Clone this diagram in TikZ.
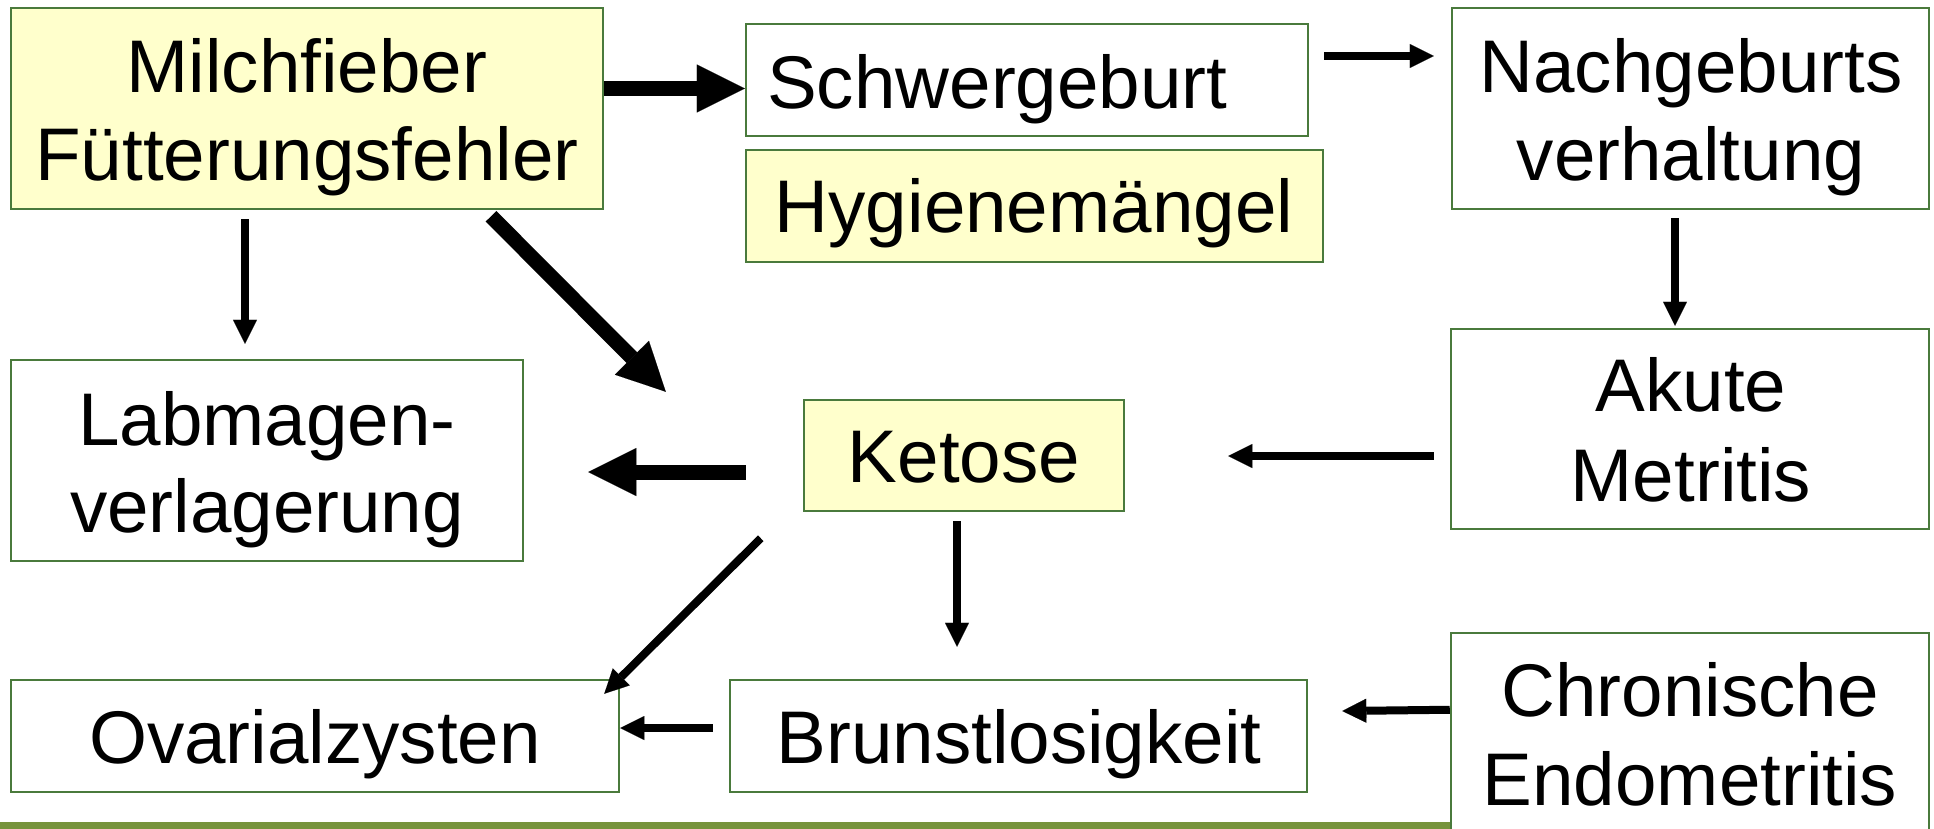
\documentclass[tikz,border=0pt]{standalone}
\usepackage{fontspec}
\setmainfont{Liberation Sans}
\usetikzlibrary{arrows.meta,calc}
\definecolor{bordergreen}{RGB}{74,122,60}
\definecolor{boxyellow}{RGB}{255,255,204}
\definecolor{olivegreen}{RGB}{119,147,60}
\begin{document}
\begin{tikzpicture}[x=1pt,y=-1pt,
  box/.style={draw=bordergreen,line width=2.5pt,fill=white,inner sep=0pt,rectangle},
  ybox/.style={box,fill=boxyellow},
  txt/.style={font=\fontsize{74.6pt}{88pt}\selectfont,inner sep=0pt,anchor=base},
  thinarrow/.style={line width=8pt,-{Triangle[length=24pt,width=24pt,line width=0.1pt]}},
  thickarrow/.style={line width=15pt,-{Triangle[length=48pt,width=48pt,line width=0.1pt]}}]
\useasboundingbox (0,0) rectangle (1934,828);
\clip (0,0) rectangle (1934,828);
\fill[white] (0,0) rectangle (1934,828);
\fill[olivegreen] (0,822) rectangle (1451,832);

% boxes
\node[ybox,minimum width=592pt,minimum height=201pt] (mf) at (307,108.5) {};
\node[box,minimum width=562pt,minimum height=112pt] (sg) at (1027,80) {};
\node[ybox,minimum width=577pt,minimum height=112pt] (hy) at (1034.5,206) {};
\node[box,minimum width=477pt,minimum height=201pt] (ng) at (1690.5,108.5) {};
\node[box,minimum width=512pt,minimum height=201pt] (lm) at (267,460.5) {};
\node[ybox,minimum width=320pt,minimum height=111pt] (ke) at (964,455.5) {};
\node[box,minimum width=478pt,minimum height=200pt] (am) at (1690,429) {};
\node[box,minimum width=608pt,minimum height=112pt] (ov) at (315,736) {};
\node[box,minimum width=577pt,minimum height=112pt] (br) at (1018.5,736) {};
\node[box,minimum width=478pt,minimum height=267pt] (ce) at (1690,766.5) {};

% texts
\node[txt] (mf1) at (307,92) {Milchfieber};
\node[txt] (mf2) at (307,180) {Fütterungsfehler};
\node[txt,anchor=base west] (sgt) at (767,108) {Schwergeburt};
\node[txt] (hyt) at (1034,232) {Hygienemängel};
\node[txt] (ng1) at (1691,92) {Nachgeburts};
\node[txt] (ng2) at (1691,180) {verhaltung};
\node[txt] (lm1) at (267,445) {Labmagen-};
\node[txt] (lm2) at (267,532) {verlagerung};
\node[txt] (ket) at (964,482) {Ketose};
\node[txt] (am1) at (1691,411) {Akute};
\node[txt] (am2) at (1691,501) {Metritis};
\node[txt] (ovt) at (315,763) {Ovarialzysten};
\node[txt] (brt) at (1019,763) {Brunstlosigkeit};
\node[txt] (ce1) at (1690,716) {Chronische};
\node[txt] (ce2) at (1690,805) {Endometritis};

% connectors
\draw[thickarrow] ($(mf.east)+(0,-20)$) -- ($(sg.west)+(0,8.5)$);
\draw[thinarrow] ($(sg.east)+(15,-24)$) -- ($(ng.west)+(-17,-52.5)$);
\draw[thinarrow] ($(mf.south)+(-62,9)$) -- ($(lm.north)+(-22,-15)$);
\draw[thickarrow] ($(mf.south)+(184,6)$) -- ($(ke.north west)+(-137,-7)$);
\draw[thinarrow] ($(ng.south)+(-15.5,8)$) -- ($(am.north)+(-15,-2)$);
\draw[thinarrow] ($(am.west)+(-16,27)$) -- ($(ke.east)+(103,0.5)$);
\draw[thickarrow] ($(ke.west)+(-57,16.5)$) -- ($(lm.east)+(64,11.5)$);
\draw[thinarrow] ($(ke.south west)+(-42,26)$) -- ($(ov.north east)+(-16,15)$);
\draw[thinarrow] ($(ke.south)+(-7,9)$) -- ($(br.north)+(-61.5,-32)$);
\draw[thinarrow] ($(br.west)+(-16,-8)$) -- ($(ov.east)+(0,-8)$);
\draw[thinarrow] ($(ce.north west)+(0,78)$) -- ($(br.east)+(34,-25)$);
\end{tikzpicture}
\end{document}
